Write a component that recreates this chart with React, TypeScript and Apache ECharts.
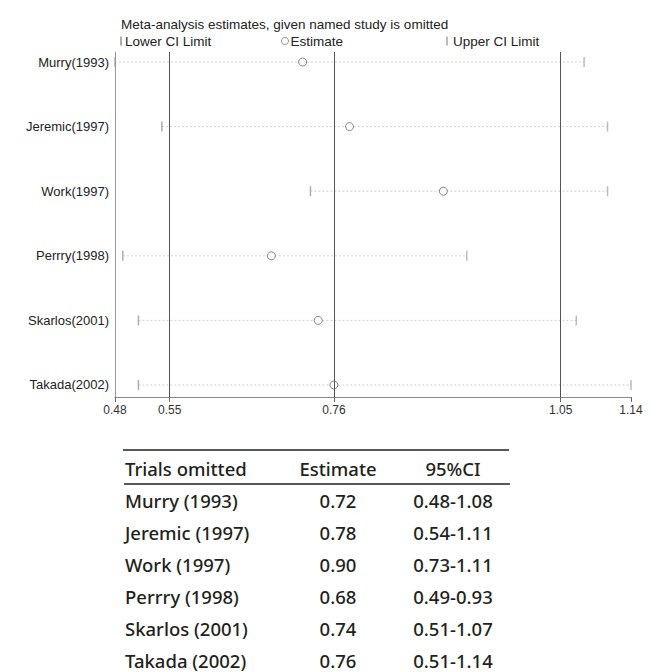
import React, { useEffect, useRef } from "react";
import * as echarts from "echarts";

const studies = ["Murry(1993)", "Jeremic(1997)", "Work(1997)", "Perrry(1998)", "Skarlos(2001)", "Takada(2002)"];
const estimates = [0.72, 0.78, 0.9, 0.68, 0.74, 0.76];
const lowerCI = [0.48, 0.54, 0.73, 0.49, 0.51, 0.51];
const upperCI = [1.08, 1.11, 1.11, 0.93, 1.07, 1.14];
const xTicks = [0.48, 0.55, 0.76, 1.05, 1.14];
const refLines = [0.55, 0.76, 1.05];

const tableHeader = ["Trials omitted", "Estimate", "95%CI"];
const tableNames = ["Murry (1993)", "Jeremic (1997)", "Work (1997)", "Perrry (1998)", "Skarlos (2001)", "Takada (2002)"];
const tableEst = ["0.72", "0.78", "0.90", "0.68", "0.74", "0.76"];
const tableCI = ["0.48-1.08", "0.54-1.11", "0.73-1.11", "0.49-0.93", "0.51-1.07", "0.51-1.14"];

const SANS = "Liberation Sans";
const TFONT = "Noto Sans";
const TCOLOR = "#231f20";

export default function App() {
  const ref = useRef<HTMLDivElement>(null);
  useEffect(() => {
    document.body.style.margin = "0";
    const chart = echarts.init(ref.current!, null, { renderer: "svg" });

    const rows = studies.map((_, i) => i);
    const tableGraphics: any[] = [];
    const tStyle = { fontFamily: TFONT, fontSize: 18.5, fontWeight: 500, fill: TCOLOR } as any;
    tableGraphics.push({ type: "line", shape: { x1: 123, y1: 450, x2: 509, y2: 450 }, style: { stroke: TCOLOR, lineWidth: 1.5 } });
    tableGraphics.push({ type: "line", shape: { x1: 124, y1: 484, x2: 510, y2: 484 }, style: { stroke: TCOLOR, lineWidth: 1.5 } });
    const colX = [125, 338, 453];
    const colAlign = ["left", "center", "center"];
    tableHeader.forEach((h, c) => {
      tableGraphics.push({ type: "text", x: colX[c], y: 468, style: { ...tStyle, text: h, align: colAlign[c], verticalAlign: "middle" } });
    });
    tableNames.forEach((n, r) => {
      const y = 500 + r * 32;
      [n, tableEst[r], tableCI[r]].forEach((t, c) => {
        tableGraphics.push({ type: "text", x: colX[c], y, style: { ...tStyle, text: t, align: colAlign[c], verticalAlign: "middle" } });
      });
    });

    const legText = { fontFamily: SANS, fontSize: 13.5, color: "#222" };

    chart.setOption({
      animation: false,
      backgroundColor: "#fff",
      title: {
        text: "Meta-analysis estimates, given named study is omitted",
        left: 116,
        top: 12,
        textStyle: { fontFamily: SANS, fontSize: 13.5, fontWeight: "normal", color: "#222" },
      },
      legend: [
        { data: ["Lower CI Limit"], left: 115, top: 29, itemWidth: 2, itemHeight: 9, textStyle: { ...legText, padding: [0, 0, 0, -2] } },
        {
          data: [{ name: "Estimate", icon: "circle", itemStyle: { color: "#fff", borderColor: "#777", borderWidth: 1 } }],
          left: 276, top: 29, itemWidth: 7, itemHeight: 7,
          textStyle: { ...legText, padding: [0, 0, 0, -3] },
        },
        { data: ["Upper CI Limit"], left: 441, top: 29, itemWidth: 2, itemHeight: 9, textStyle: { ...legText, padding: [0, 0, 0, 0] } },
      ],
      grid: { left: 115, right: 21, top: 52, bottom: 275 },
      xAxis: {
        type: "value",
        min: 0.48,
        max: 1.14,
        axisLine: { show: true, onZero: false, lineStyle: { color: "#888", width: 1 } },
        axisTick: { show: true, length: 5, customValues: xTicks, lineStyle: { color: "#666" } },
        axisLabel: {
          customValues: xTicks,
          formatter: (v: number) => v.toFixed(2),
          fontFamily: SANS,
          fontSize: 12,
          color: "#333",
          margin: 7,
        },
        splitLine: { show: false },
      },
      yAxis: {
        type: "value",
        inverse: true,
        min: -0.155,
        max: 5.186,
        axisLine: { show: true, onZero: false, lineStyle: { color: "#999", width: 1 } },
        axisTick: { show: false },
        axisLabel: {
          customValues: rows,
          formatter: (v: number) => studies[Math.round(v)] ?? "",
          fontFamily: SANS,
          fontSize: 13,
          color: "#222",
          margin: 6,
        },
        splitLine: { show: false },
      },
      series: [
        {
          name: "CI",
          type: "custom",
          silent: true,
          data: rows.map((i) => [lowerCI[i], upperCI[i], i]),
          renderItem: (params: any, api: any) => {
            const a = api.coord([api.value(0), api.value(2)]);
            const b = api.coord([api.value(1), api.value(2)]);
            return {
              type: "line",
              shape: { x1: a[0], y1: a[1], x2: b[0], y2: b[1] },
              style: { stroke: "#cfcfcf", lineWidth: 1, lineDash: [2, 2] },
            };
          },
          markLine: {
            silent: true,
            symbol: "none",
            label: { show: false },
            lineStyle: { color: "#555", width: 1, type: "solid" },
            data: refLines.map((v) => ({ xAxis: v })),
          },
        },
        {
          name: "Lower CI Limit",
          type: "scatter",
          symbol: "rect",
          symbolSize: [1.5, 10],
          itemStyle: { color: "#999" },
          data: rows.map((i) => [lowerCI[i], i]),
        },
        {
          name: "Estimate",
          type: "scatter",
          symbol: "circle",
          symbolSize: 8,
          itemStyle: { color: "#fff", borderColor: "#666", borderWidth: 1 },
          data: rows.map((i) => [estimates[i], i]),
        },
        {
          name: "Upper CI Limit",
          type: "scatter",
          symbol: "rect",
          symbolSize: [1.5, 10],
          itemStyle: { color: "#aaa" },
          data: rows.map((i) => [upperCI[i], i]),
        },
      ],
      graphic: tableGraphics,
    });
    return () => chart.dispose();
  }, []);
  return <div ref={ref} style={{ width: 652, height: 672 }} />;
}
